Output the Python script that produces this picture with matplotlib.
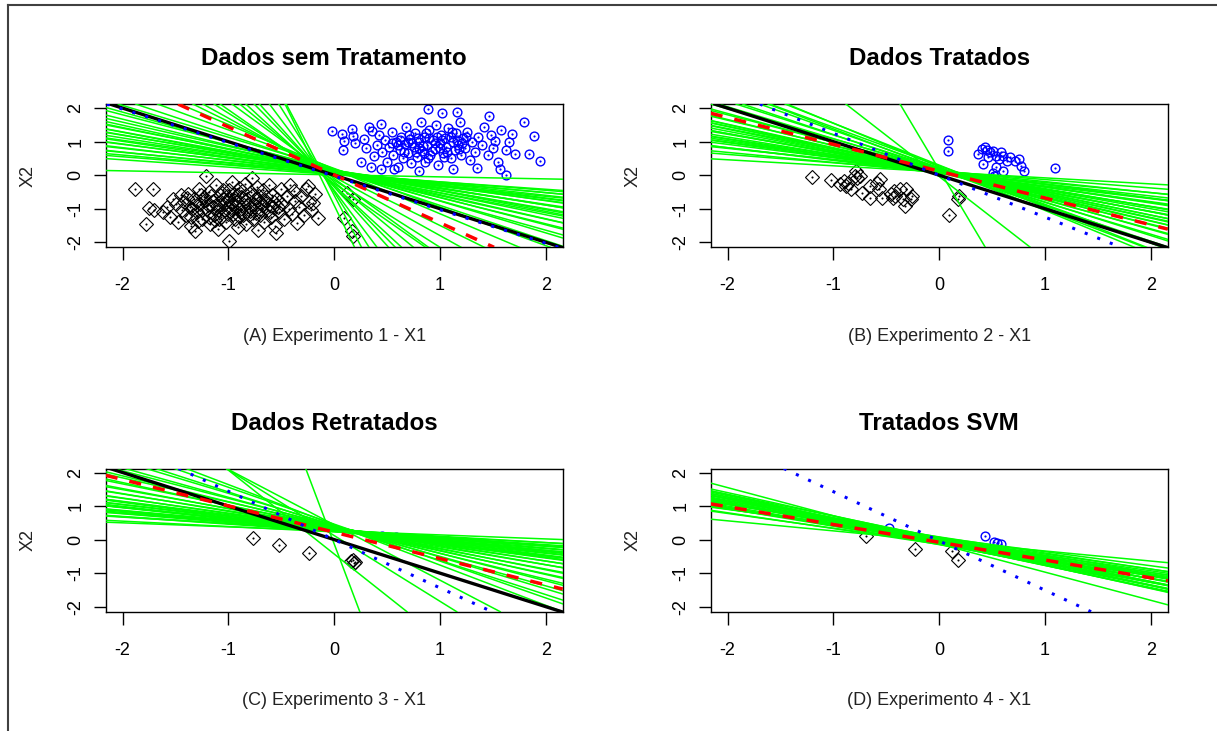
import matplotlib
matplotlib.use('Agg')
import matplotlib.pyplot as plt
from matplotlib.lines import Line2D

plt.rcParams['font.family'] = ['Liberation Sans', 'DejaVu Sans']

# ---------------- data ----------------
titles = ['Dados sem Tratamento', 'Dados Tratados', 'Dados Retratados', 'Tratados SVM']
xlabels = ['(A) Experimento 1 - X1', '(B) Experimento 2 - X1',
           '(C) Experimento 3 - X1', '(D) Experimento 4 - X1']
ylabel_text = 'X2'
tick_values = [-2, -1, 0, 1, 2]

# Panel A points (class -1 black diamonds, class +1 blue circles)
a_black = [(-1.88,-0.42),(-1.71,-0.42),(-1.75,-0.97),(-1.78,-1.47),(-1.70,-1.05),(-1.62,-1.10),
           (-1.58,-0.95),(-1.55,-1.25),(-1.52,-0.70),(-1.50,-0.85),(-1.48,-1.40),(-1.45,-0.60),
           (-1.44,-1.05),(-1.42,-0.80),(-1.40,-1.20),(-1.38,-0.55),(-1.36,-0.95),(-1.35,-1.50),
           (-1.33,-0.72),(-1.32,-1.67),(-1.30,-1.10),(-1.28,-0.40),(-1.27,-0.85),(-1.25,-1.30),
           (-1.23,-0.65),(-1.21,-0.02),(-1.20,-1.00),(-1.18,-0.50),(-1.17,-1.45),(-1.15,-0.78),
           (-1.14,-1.18),(-1.12,-0.30),(-1.11,-0.92),(-1.10,-1.60),(-1.08,-0.60),(-1.07,-1.25),
           (-1.05,-0.45),(-1.04,-0.85),(-1.03,-1.05),(-1.02,-1.40),(-1.00,-0.70),(-0.99,-1.97),
           (-0.98,-0.95),(-0.97,-0.20),(-0.96,-1.15),(-0.95,-0.55),(-0.94,-1.30),(-0.92,-0.80),
           (-0.91,-1.55),(-0.90,-0.38),(-0.89,-1.00),(-0.88,-0.65),(-0.86,-1.20),(-0.85,-0.90),
           (-0.84,-0.25),(-0.83,-1.45),(-0.82,-0.72),(-0.80,-1.08),(-0.79,-0.50),(-0.78,-0.07),
           (-0.77,-1.30),(-0.76,-0.85),(-0.74,-1.00),(-0.73,-0.35),(-0.72,-1.62),(-0.71,-0.62),
           (-0.70,-1.20),(-0.68,-0.90),(-0.67,-0.45),(-0.66,-1.40),(-0.65,-0.75),(-0.63,-1.05),
           (-0.62,-0.28),(-0.60,-1.25),(-0.59,-0.58),(-0.58,-0.95),(-0.56,-1.50),(-0.55,-1.72),
           (-0.54,-0.70),(-0.52,-1.10),(-0.50,-0.40),(-0.49,-0.85),(-0.47,-1.30),(-0.45,-0.62),
           (-0.43,-1.00),(-0.42,-0.30),(-0.40,-1.15),(-0.38,-0.48),(-0.37,-0.78),(-0.35,-1.42),
           (-0.33,-0.95),(-0.31,-0.62),(-0.29,-1.20),(-0.27,-0.40),(-0.25,-0.33),(-0.24,-0.80),
           (-0.22,-1.05),(-0.20,-0.82),(-0.18,-0.55),(-0.15,-1.27),(0.12,-0.52),(0.18,-0.72),
           (0.09,-1.27),(0.17,-1.66),(0.18,-1.80),(-1.30,-0.90),(-1.22,-0.75),(-1.15,-0.95),
           (-1.05,-0.70),(-0.98,-0.82),(-0.92,-0.60),(-0.88,-1.10),(-1.10,-1.05),(-1.18,-1.25),
           (-0.80,-0.95),(-0.75,-0.70),(-1.00,-1.15),(-0.95,-0.75),(-1.25,-1.05),(-1.35,-1.25),
           (-0.70,-0.80),(-0.62,-0.85),(-1.08,-0.88),(-1.26,-0.58),(-1.19,-0.88),(-1.13,-1.35),
           (-1.06,-0.52),(-1.01,-0.62),(-0.97,-1.05),(-0.93,-0.92),(-0.90,-1.22),(-0.87,-0.48),
           (-0.84,-0.78),(-0.81,-1.18),(-0.77,-0.58),(-0.74,-1.12),(-0.69,-1.05),(-0.64,-0.65),
           (-0.61,-1.10),(-0.57,-0.80),(-0.53,-0.95),(-1.39,-0.68),(-1.34,-1.02),(-1.29,-1.38),
           (-1.16,-0.62),(-1.09,-1.32),(-0.99,-0.45)]
a_blue = [(-0.02,1.32),(0.07,1.22),(0.09,1.02),(0.08,0.74),(0.17,1.37),(0.18,1.17),(0.28,1.07),
          (0.36,1.32),(0.44,1.52),(0.38,0.57),(0.44,0.17),(0.57,0.17),(0.89,1.98),(1.02,1.85),
          (1.16,1.87),(1.46,1.77),(1.79,1.60),(1.89,1.17),(1.95,0.42),(1.62,0.02),(1.57,0.17),
          (1.35,0.22),(1.12,0.19),(0.80,0.12),(1.68,1.22),(1.71,0.62),(1.84,0.62),(1.52,1.02),
          (0.40,0.90),(0.42,1.20),(0.45,0.70),(0.48,1.05),(0.50,0.40),(0.52,0.85),(0.55,1.30),
          (0.56,0.60),(0.58,1.00),(0.60,0.25),(0.62,0.75),(0.63,1.15),(0.65,0.50),(0.67,0.92),
          (0.68,1.45),(0.70,0.65),(0.72,1.08),(0.73,0.35),(0.75,0.85),(0.76,1.25),(0.78,0.55),
          (0.80,1.00),(0.82,1.60),(0.83,0.72),(0.85,1.15),(0.86,0.40),(0.88,0.90),(0.90,1.35),
          (0.91,0.60),(0.93,1.05),(0.95,0.78),(0.96,1.50),(0.98,0.30),(1.00,0.95),(1.01,1.20),
          (1.03,0.65),(1.05,1.10),(1.06,0.85),(1.08,1.40),(1.10,0.50),(1.12,1.00),(1.14,0.75),
          (1.15,1.25),(1.17,0.90),(1.19,1.60),(1.20,0.60),(1.22,1.10),(1.24,0.82),(1.26,1.30),
          (1.28,0.45),(1.30,1.00),(1.33,0.70),(1.36,1.15),(1.40,0.90),(1.42,1.45),(1.45,0.60),
          (1.48,1.20),(1.50,0.80),(1.55,0.40),(1.58,1.35),(1.62,0.75),(1.65,1.00),(0.30,0.80),
          (0.25,0.40),(0.33,1.45),(0.20,0.95),(0.35,0.25),(0.70,1.00),(0.90,1.10),(1.00,0.80),
          (0.80,0.80),(1.10,1.15),(0.60,0.90),(0.95,0.95),(0.85,0.65),(0.55,0.95),(0.62,1.05),
          (0.66,0.70),(0.71,1.20),(0.74,0.95),(0.79,1.12),(0.84,0.88),(0.87,1.25),(0.92,0.72),
          (0.97,1.15),(1.02,1.05),(1.07,0.70),(1.11,1.30),(1.16,1.05),(1.21,0.95),(1.25,1.15),
          (0.77,0.68),(0.89,0.50),(1.04,0.55),(1.18,0.78)]

# Panel B points
b_black = [(-1.20,-0.04),(-1.02,-0.14),(-0.94,-0.27),(-0.90,-0.18),(-0.88,-0.32),(-0.86,-0.22),
           (-0.83,-0.42),(-0.80,-0.02),(-0.78,-0.08),(-0.79,0.12),(-0.75,-0.01),(-0.73,-0.52),
           (-0.65,-0.67),(-0.65,-0.32),(-0.59,-0.22),(-0.57,-0.42),(-0.54,-0.67),(-0.56,-0.12),
           (-0.46,-0.57),(-0.42,-0.62),(-0.43,-0.47),(-0.37,-0.42),(-0.34,-0.72),(-0.31,-0.42),
           (-0.32,-0.92),(-0.27,-0.72),(-0.26,-0.62),(-0.44,-0.67),(0.18,-0.72),(0.19,-0.62),
           (0.09,-1.20)]
b_blue = [(0.08,1.05),(0.08,0.73),(0.37,0.63),(0.40,0.78),(0.43,0.83),(0.48,0.68),(0.51,0.73),
          (0.46,0.53),(0.41,0.33),(0.54,0.58),(0.57,0.48),(0.60,0.58),(0.64,0.43),(0.67,0.53),
          (0.72,0.43),(0.75,0.48),(0.77,0.28),(0.80,0.13),(0.54,0.23),(0.60,0.13),(0.51,0.08),
          (1.09,0.20),(0.52,-0.02),(0.45,0.75),(0.58,0.68)]

# Panel C points
c_black = [(-0.77,0.04),(-0.52,-0.16),(-0.24,-0.41),(0.18,-0.60),(0.20,-0.66),(0.16,-0.64),(0.19,-0.70)]
c_blue = [(0.45,0.12),(0.58,0.08)]

# Panel D points
d_black = [(-0.69,0.11),(-0.23,-0.27),(0.12,-0.35),(0.18,-0.62)]
d_blue = [(-0.47,0.34),(0.43,0.10),(0.52,-0.06),(0.58,-0.14),(0.55,-0.10)]

# Green candidate hyperplanes: (intercept, slope)
a_green = [(0.01,-0.06),(0.02,-0.22),(0.05,-0.25),(0.04,-0.28),(0.08,-0.30),(0.03,-0.33),
           (0.10,-0.35),(0.06,-0.38),(0.12,-0.40),(0.09,-0.42),(0.14,-0.45),(0.07,-0.47),
           (0.11,-0.50),(0.15,-0.52),(0.10,-0.55),(0.13,-0.58),(0.08,-0.60),(0.16,-0.62),
           (0.12,-0.65),(0.09,-0.70),(0.14,-0.72),(0.11,-0.78),(0.16,-0.82),(0.12,-0.88),
           (0.18,-0.95),(0.15,-1.05),(0.20,-1.15),(0.18,-1.33),(0.05,-1.55),(-0.05,-1.75),
           (-0.15,-2.0),(-0.10,-2.3),(-0.25,-2.2),(-0.20,-2.6),(-0.30,-2.9),(-0.30,-3.2),
           (-0.35,-3.5),(-0.45,-4.2),(-0.50,-5.0),(-0.60,-6.0),(-0.90,-6.5)]
b_green = [(0.10,-0.18),(0.12,-0.25),(0.08,-0.30),(0.14,-0.33),(0.10,-0.36),(0.06,-0.38),
           (0.12,-0.40),(0.15,-0.42),(0.09,-0.44),(0.11,-0.46),(0.13,-0.48),(0.07,-0.50),
           (0.10,-0.52),(0.14,-0.54),(0.12,-0.56),(0.08,-0.58),(0.11,-0.60),(0.15,-0.62),
           (0.09,-0.64),(0.13,-0.66),(0.10,-0.68),(0.12,-0.70),(0.07,-0.72),(0.14,-0.75),
           (0.10,-0.78),(0.16,-0.82),(0.12,-0.86),(0.18,-0.90),(0.14,-0.95),(0.20,-1.00),
           (0.15,-1.06),(0.22,-1.12),(0.18,-1.20),(0.28,-1.15),(0.30,-1.25),(0.25,-1.30),
           (-0.04,-2.45),(0.16,-5.3)]
c_green = [(0.26,-0.12),(0.23,-0.16),(0.29,-0.19),(0.24,-0.22),(0.30,-0.24),(0.25,-0.26),
           (0.31,-0.28),(0.26,-0.30),(0.32,-0.32),(0.27,-0.34),(0.33,-0.36),(0.28,-0.38),
           (0.34,-0.40),(0.29,-0.42),(0.35,-0.44),(0.30,-0.47),(0.36,-0.50),(0.31,-0.53),
           (0.37,-0.56),(0.32,-0.60),(0.38,-0.64),(0.34,-0.68),(0.40,-0.72),(0.36,-0.77),
           (0.41,-0.82),(0.38,-0.88),(0.43,-0.95),(0.40,-1.02),(0.46,-1.10),(0.44,-1.20),
           (0.27,-0.21),(0.31,-0.25),(0.26,-0.29),(0.30,-0.33),(0.25,-0.37),(0.29,-0.41),
           (0.44,-1.65),(0.12,-1.96),(-0.43,-2.5),(-0.13,-8.35)]
d_green = [(-0.04,-0.30),(-0.13,-0.84),(0.06,-0.42),(-0.10,-0.44),(0.02,-0.45),(-0.14,-0.47),
           (0.08,-0.48),(-0.06,-0.50),(0.04,-0.51),(-0.12,-0.52),(0.00,-0.53),(-0.08,-0.54),
           (0.05,-0.55),(-0.15,-0.56),(-0.02,-0.57),(0.07,-0.58),(-0.10,-0.59),(0.03,-0.60),
           (-0.05,-0.61),(-0.13,-0.62),(0.01,-0.63),(-0.07,-0.64),(0.05,-0.65),(-0.11,-0.66),
           (-0.03,-0.67),(-0.09,-0.68),(0.02,-0.69),(-0.06,-0.70),(-0.01,-0.46),(-0.04,-0.49)]

# reference lines: (intercept, slope)  -- None means not drawn
black_lines = [(0.0, -1.0), (0.0, -1.0), (0.0, -1.0), None]
red_lines = [(0.01, -1.43), (0.12, -0.80), (0.22, -0.785), (-0.08, -0.53)]
blue_lines = [(-0.03, -1.0), (0.0, -1.25), (0.0, -1.44), (-0.04, -1.47)]

black_pts = [a_black, b_black, c_black, d_black]
blue_pts = [a_blue, b_blue, c_blue, d_blue]
greens = [a_green, b_green, c_green, d_green]

# ---------------- layout ----------------
W, H = 1217, 731
fig = plt.figure(figsize=(W / 100, H / 100), dpi=100)
lefts = [105.7, 710.7, 105.7, 710.7]
bottoms = [247.3, 247.3, 611.7, 611.7]
aw, ah = 457.0, 143.2

for i in range(4):
    ax = fig.add_axes([lefts[i] / W, 1 - bottoms[i] / H, aw / W, ah / H])
    bx = [p[0] for p in black_pts[i]]
    by = [p[1] for p in black_pts[i]]
    ux = [p[0] for p in blue_pts[i]]
    uy = [p[1] for p in blue_pts[i]]
    ax.plot(bx, by, linestyle='none', marker='D', ms=7.3, mfc='none', mec='black', mew=0.8, zorder=2)
    ax.plot(bx, by, linestyle='none', marker='o', ms=1.5, mfc='black', mec='black', mew=0, zorder=2)
    ax.plot(ux, uy, linestyle='none', marker='o', ms=6.3, mfc='none', mec='#0000FF', mew=1.0, zorder=2)
    ax.plot(ux, uy, linestyle='none', marker='o', ms=1.6, mfc='#0000FF', mec='#0000FF', mew=0, zorder=2)

    for (a, b) in greens[i]:
        ax.axline((0, a), slope=b, color='#00FF00', lw=1.1, zorder=3)
    if black_lines[i] is not None:
        a, b = black_lines[i]
        ax.axline((0, a), slope=b, color='black', lw=2.4, zorder=4)
    a, b = red_lines[i]
    ax.axline((0, a), slope=b, color='#FF0000', lw=2.5, linestyle=(0, (3.5, 3.5)),
              dash_capstyle='butt', zorder=5)
    a, b = blue_lines[i]
    ax.axline((0, a), slope=b, color='#0000FF', lw=2.2, linestyle=(0, (1, 3.4)),
              dash_capstyle='butt', zorder=6)

    ax.set_xlim(-2.16, 2.16)
    ax.set_ylim(-2.15, 2.12)
    ax.set_xticks(tick_values)
    ax.set_yticks(tick_values)
    ax.set_xticklabels([str(t) for t in tick_values])
    ax.set_yticklabels([str(t) for t in tick_values])
    ax.tick_params(axis='both', direction='out', length=9, width=1.0, colors='black',
                   labelsize=13)
    ax.tick_params(axis='x', pad=12.5)
    ax.tick_params(axis='y', pad=6.3, labelrotation=90)
    for lab in ax.get_yticklabels():
        lab.set_va('center')
    for sp in ax.spines.values():
        sp.set_linewidth(1.0)
        sp.set_color('black')

    ax.set_title(titles[i], fontsize=17.4, fontweight='bold', pad=27.8)
    ax.set_xlabel(xlabels[i], fontsize=13, color='#222222')
    ax.xaxis.set_label_coords(0.5, -0.651)
    ax.xaxis.label.set_va('baseline')
    ax.set_ylabel(ylabel_text, fontsize=13, color='#222222')
    ax.yaxis.set_label_coords(-0.169, 0.5)
    ax.yaxis.label.set_va('center')

# outer frame (left and top edges)
fig.add_artist(Line2D([8 / W, 8 / W], [0, 1 - 5 / H], transform=fig.transFigure,
                      color='#404040', lw=1.5))
fig.add_artist(Line2D([8 / W, 1], [1 - 5 / H, 1 - 5 / H], transform=fig.transFigure,
                      color='#404040', lw=1.5))

fig.savefig('out.png', dpi=100, facecolor='white')
